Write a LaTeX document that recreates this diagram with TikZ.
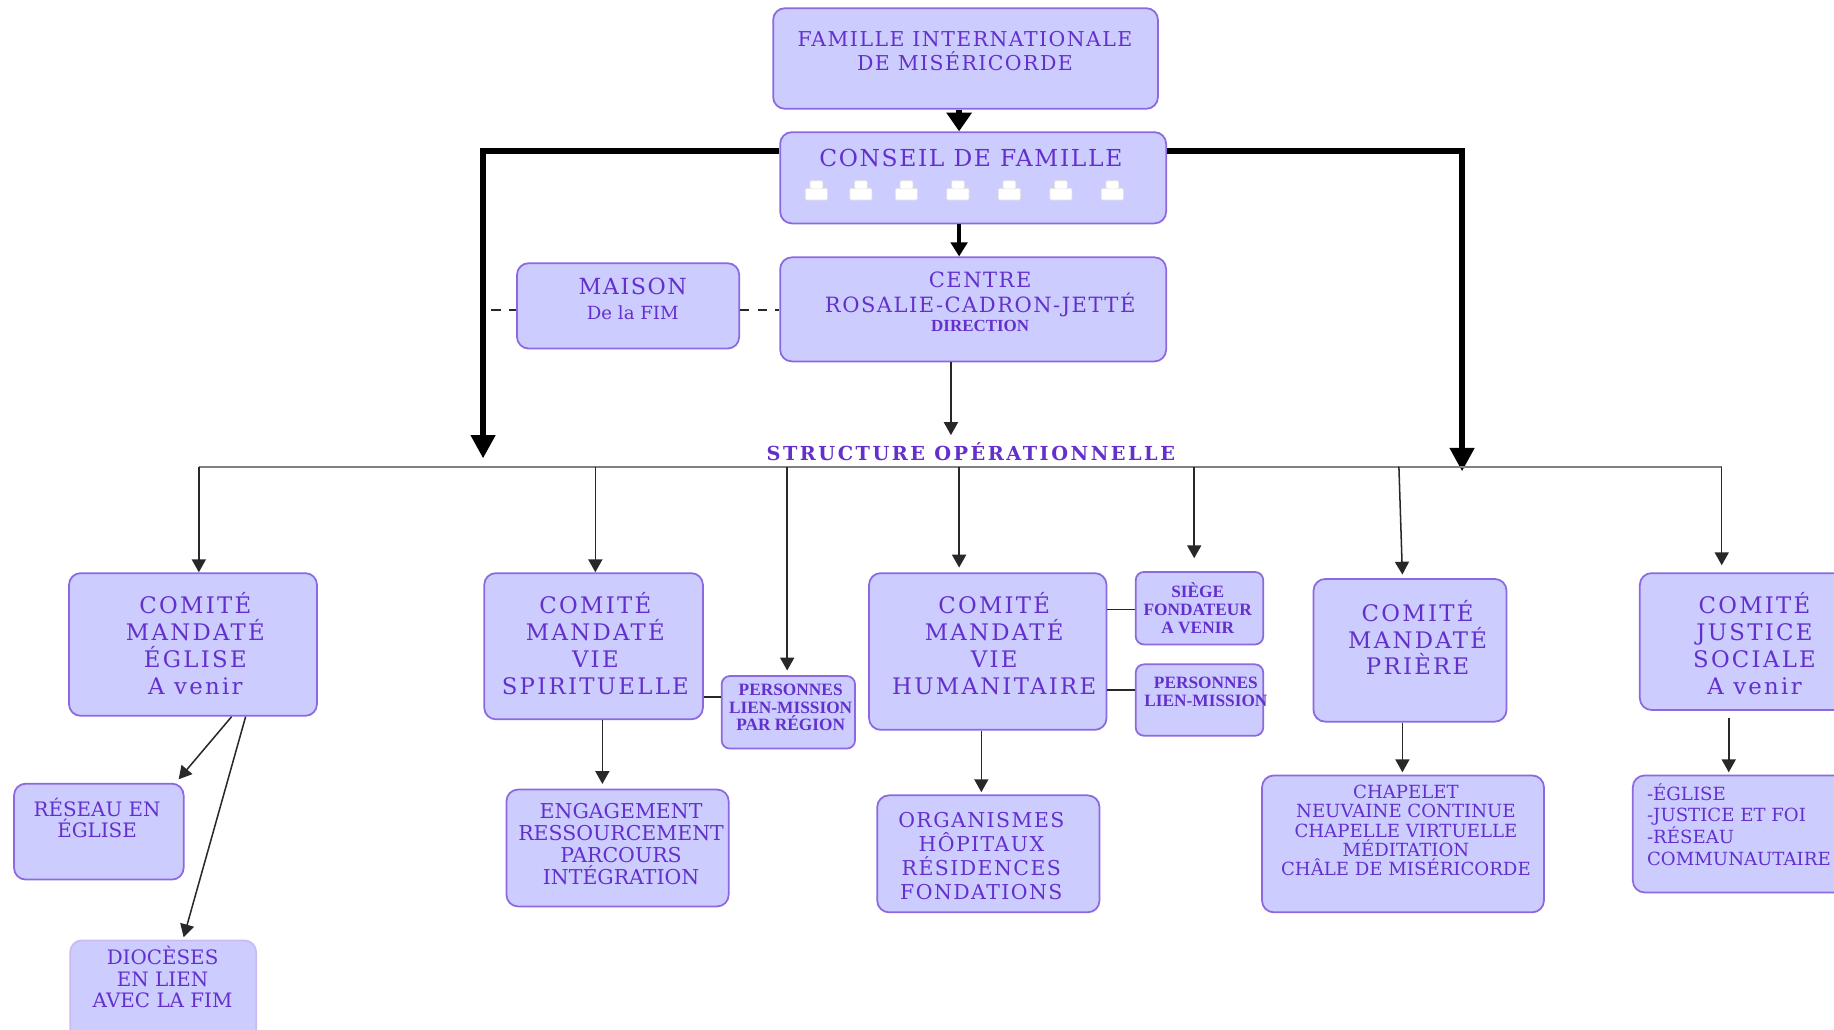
\documentclass[tikz,border=0pt]{standalone}
\usepackage{fontspec}
\setmainfont{DejaVu Serif}
\newfontfamily\spf{DejaVu Serif}[LetterSpace=10]
\newfontfamily\sps{DejaVu Serif}[LetterSpace=13]
\newfontfamily\spg{DejaVu Serif}[LetterSpace=7]
\newfontfamily\spn{DejaVu Serif}
\newfontfamily\tmf{Liberation Serif}
\usetikzlibrary{arrows.meta}
\definecolor{boxfill}{RGB}{204,204,255}
\definecolor{boxline}{RGB}{140,105,225}
\definecolor{txtc}{RGB}{100,48,204}
\definecolor{busc}{RGB}{128,128,128}
\definecolor{conc}{RGB}{40,40,40}
\newcommand\fsz[2]{\fontsize{#1}{#2}\selectfont}
\begin{document}
\begin{tikzpicture}[x=1pt,y=-1pt,
  box/.style={draw=boxline, fill=boxfill, line width=1.5pt, rounded corners=10pt, inner sep=0pt},
  sbox/.style={box, rounded corners=7pt},
  lbl/.style={text=txtc, align=center, inner sep=0pt},
  comite/.style={lbl, font=\spf\fsz{19.5}{23}},
  tiny/.style={lbl, font=\tmf\bfseries\fsz{14.8}{15}},
  conn/.style={draw=conc, line width=1.3pt, -{Triangle[width=12pt,length=11pt]}},
  link/.style={draw=conc, line width=1.3pt},
  bus/.style={draw=busc, line width=2pt},
  heavy/.style={draw=black, line width=5pt, -{Triangle[width=20pt,length=20pt]}},
  seat/.pic={
    \path[fill=white, draw=black!12, line width=0.6pt, rounded corners=1pt] (-9.5,-2) rectangle (9.5,8);
    \path[fill=white, draw=black!12, line width=0.6pt, rounded corners=1pt] (-5.5,-8.5) rectangle (5.5,-1.5);
  }]
\useasboundingbox (0,0) rectangle (1568,880);
\clip (0,0) rectangle (1568,880);
\fill[white] (0,0) rectangle (1568,880);

% ---------- top boxes
\node[box, minimum width=329pt, minimum height=86pt] (fam) at (825.5,50) {};
\node[lbl, font=\spg\fsz{17.5}{21}] (famT) at (825,43.5) {FAMILLE INTERNATIONALE\\DE MISÉRICORDE};

\node[box, minimum width=330pt, minimum height=78pt] (cons) at (832,152) {};
\node[lbl, font=\spg\fsz{20}{24}] (consT) at (830,135) {CONSEIL DE FAMILLE};
\foreach \px in {698,736,775,819,863,907,951} { \pic at (\px,163) {seat}; }

\node[box, minimum width=330pt, minimum height=89pt] (cent) at (832,264.5) {};
\node[lbl, font=\spg\fsz{18}{21}] (centT) at (838,251.5) {CENTRE\\ROSALIE-CADRON-JETTÉ};
\node[lbl, font=\tmf\bfseries\fsz{14.5}{16}] (centD) at (838,279) {DIRECTION};

\node[box, minimum width=190pt, minimum height=73pt] (mais) at (537,261.5) {};
\node[lbl, font=\spg\fsz{19}{22}] (maisT) at (541,245) {MAISON};
\node[lbl, font=\spn\fsz{15.5}{18}] (maisS) at (541,267) {De la FIM};

\node[lbl, font=\sps\bfseries\fsz{16.5}{18}] (struct) at (830,386) {STRUCTURE OPÉRATIONNELLE};

% ---------- committees
\node[box, minimum width=212pt, minimum height=122pt] (egl) at (165,551) {};
\node[comite] (eglT) at (167,550.5) {COMITÉ\\MANDATÉ\\ÉGLISE\\A venir};

\node[box, minimum width=187pt, minimum height=125pt] (vsp) at (507.5,552.5) {};
\node[comite] (vspT) at (509,550.5) {COMITÉ\\MANDATÉ\\VIE\\SPIRITUELLE};

\node[sbox, minimum width=114pt, minimum height=62pt] (per1) at (674,609) {};
\node[tiny] (per1T) at (676,605) {PERSONNES\\LIEN-MISSION\\PAR RÉGION};

\node[box, minimum width=203pt, minimum height=134pt] (hum) at (844.5,557) {};
\node[comite] (humT) at (850,550.5) {COMITÉ\\MANDATÉ\\VIE\\HUMANITAIRE};

\node[sbox, minimum width=109pt, minimum height=62pt] (sieg) at (1025.5,520) {};
\node[tiny] (siegT) at (1024,520) {SIÈGE\\FONDATEUR\\A VENIR};

\node[sbox, minimum width=109pt, minimum height=61pt] (per2) at (1025.5,598.5) {};
\node[tiny] (per2T) at (1031,591.5) {PERSONNES\\LIEN-MISSION};

\node[box, minimum width=165pt, minimum height=122pt] (pri) at (1205.5,556) {};
\node[comite] (priT) at (1212,545) {COMITÉ\\MANDATÉ\\PRIÈRE};

\node[box, minimum width=196pt, minimum height=117pt] (jus) at (1500,548.5) {};
\node[comite] (jusT) at (1500,550.5) {COMITÉ\\JUSTICE\\SOCIALE\\A venir};

% ---------- third row
\node[box, minimum width=145pt, minimum height=82pt] (res) at (84.5,711) {};
\node[lbl, font=\spn\fsz{17}{18}] (resT) at (83,699) {RÉSEAU EN\\ÉGLISE};

\node[box, draw=boxline!45, minimum width=159pt, minimum height=96pt] (dio) at (139.5,852) {};
\node[lbl, font=\spn\fsz{17}{18.5}] (dioT) at (139,835.5) {DIOCÈSES\\EN LIEN\\AVEC LA FIM};

\node[box, minimum width=190pt, minimum height=100pt] (eng) at (528,725) {};
\node[lbl, font=\spn\fsz{17.5}{19}] (engT) at (531,721.5) {ENGAGEMENT\\RESSOURCEMENT\\PARCOURS\\INTÉGRATION};

\node[box, minimum width=190pt, minimum height=100pt] (org) at (845,730) {};
\node[lbl, font=\spg\fsz{17.5}{20.7}] (orgT) at (839,732) {ORGANISMES\\HÔPITAUX\\RÉSIDENCES\\FONDATIONS};

\node[box, minimum width=241pt, minimum height=117pt] (cha) at (1199.5,721.5) {};
\node[lbl, font=\spn\fsz{15.5}{16.5}] (chaT) at (1202,710) {CHAPELET\\NEUVAINE CONTINUE\\CHAPELLE VIRTUELLE\\MÉDITATION\\CHÂLE DE MISÉRICORDE};

\node[box, minimum width=194pt, minimum height=100pt] (lst) at (1493,713) {};
\node[lbl, align=left, anchor=west, font=\spn\fsz{15.5}{18.7}] (lstT) at (1408,705) {-ÉGLISE\\-JUSTICE ET FOI\\-RÉSEAU\\COMMUNAUTAIRE};

% ---------- connectors, upper part
\draw[draw=black, line width=5pt, -{Triangle[width=21pt,length=16pt]}] ([xshift=-5.5pt]fam.south) -- ([xshift=-12pt]cons.north);
\draw[draw=black, line width=3.5pt, -{Triangle[width=14pt,length=12pt]}] ([xshift=-12pt]cons.south) -- ([xshift=-12pt]cent.north);

\coordinate (L) at (413,392);
\coordinate (R) at (1250,403);
\draw[heavy] ([yshift=23pt]cons.west) -| (L);
\draw[heavy] ([yshift=23pt]cons.east) -| (R);

\coordinate (dl) at (420,265);
\draw[link, dashed, dash pattern=on 8pt off 7pt] (dl) -- (dl -| mais.west);
\draw[link, dashed, dash pattern=on 8pt off 7pt] (mais.east |- dl) -- (cent.west |- dl);

\coordinate (st) at (813,372);
\draw[conn] (cent.south -| st) -- (st);

% ---------- bus and drops
\coordinate (busL) at (170,399);
\coordinate (busR) at (1472,399);
\draw[bus] (busL) -- (busR);
\coordinate (b2) at (509,399);
\coordinate (b3) at (673,399);
\coordinate (b4) at (820,399);
\coordinate (b5) at (1021,399);
\coordinate (b6) at (1196,399);
\draw[conn] (busL) -- (busL |- egl.north);
\draw[conn] (b2) -- (b2 |- vsp.north);
\draw[conn] (b3) -- ([yshift=4pt]b3 |- per1.north);
\draw[conn] (b4) -- ([yshift=4pt]b4 |- hum.north);
\draw[conn] (b5) -- ([yshift=11pt]b5 |- sieg.north);
\draw[conn] (b6) -- ([xshift=-6.5pt,yshift=3pt]pri.north);
\draw[conn] (busR) -- ([yshift=6pt]busR |- jus.north);

% ---------- side links
\coordinate (s1) at (610,596);
\coordinate (s2) at (960,521);
\coordinate (s3) at (960,590);
\draw[link] (s1 -| vsp.east) -- (s1 -| per1.west);
\draw[link] (s2 -| hum.east) -- (s2 -| sieg.west);
\draw[link] (s3 -| hum.east) -- (s3 -| per2.west);

% ---------- lower arrows
\draw[conn] ([xshift=33pt]egl.south) -- ([xshift=-5pt,yshift=3pt]res.north east);
\draw[conn] ([xshift=45pt]egl.south) -- ([xshift=17.5pt,yshift=2pt]dio.north);
\draw[conn] ([xshift=7.5pt]vsp.south) -- ([xshift=-13pt,yshift=4pt]eng.north);
\draw[conn] ([xshift=-5.5pt]hum.south) -- ([xshift=-6pt,yshift=2pt]org.north);
\draw[conn] ([xshift=-6.5pt]pri.south) -- ([xshift=-0.5pt,yshift=2pt]cha.north);
\draw[conn] ([xshift=-22pt,yshift=-6pt]jus.south) -- ([xshift=-15pt,yshift=2pt]lst.north);
\end{tikzpicture}
\end{document}
